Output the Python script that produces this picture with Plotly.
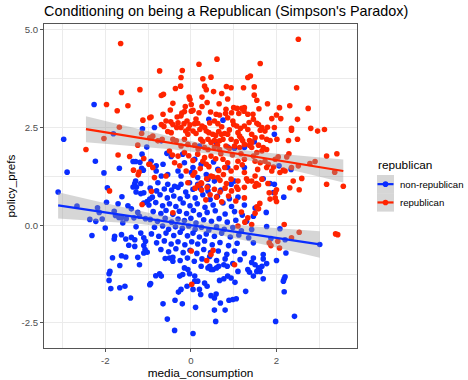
import numpy as np
import plotly.graph_objects as go

# ---------------- data ----------------
red_pts = [
    (-1.64,4.65),(-1.19,3.47),(-1.62,3.40),(-1.97,3.09),(-1.47,3.06),(-1.72,2.93),(-0.96,2.75),(-1.12,2.69),
    (-1.67,2.51),(-1.15,2.35),(-2.03,2.22),(-1.24,2.05),(-2.45,1.94),(-1.70,1.80),(-1.43,1.76),(-1.10,1.71),
    (-0.98,1.56),(-1.34,1.41),(-1.21,1.36),(-1.23,1.29),(-1.90,0.88),(-1.14,0.53),
    (0.61,4.25),(0.19,4.12),(-0.73,3.95),(-0.20,3.96),(-0.23,3.78),(0.28,3.75),(0.47,3.79),(1.33,3.78),(1.39,3.82),
    (0.32,3.56),(0.36,3.47),(-0.36,3.50),(-0.24,3.56),(0.83,3.55),(0.94,3.52),(1.23,3.52),(0.53,3.42),(-0.69,3.32),
    (-0.64,3.35),(0.72,3.37),(0.86,3.23),(-0.04,3.28),(-0.02,3.22),(0.26,3.28),(-0.42,3.12),(0.01,3.09),(-0.13,3.04),
    (0.38,3.14),(0.26,3.04),(0.66,3.11),(1.00,3.01),(1.08,2.99),(1.19,2.99),(1.25,3.01),(0.82,2.97),(0.01,2.92),
    (0.05,2.94),(-0.21,2.87),(-0.15,2.91),(-0.65,2.84),(-0.93,2.77),(-0.23,2.80),(-0.32,2.77),(0.46,2.90),(0.59,2.84),
    (0.67,2.82),(0.81,2.86),(0.86,2.75),(1.12,2.86),(1.33,2.84),(1.45,2.84),(1.24,2.92),(-0.58,2.67),(-0.47,2.65),
    (-0.42,2.58),(-0.69,2.58),(-0.63,2.53),(-0.16,2.60),(-0.09,2.67),(-0.02,2.57),(0.09,2.60),(0.16,2.61),(0.26,2.54),
    (0.32,2.50),(0.55,2.67),(0.63,2.60),(0.98,2.67),(1.00,2.58),(1.07,2.54),(1.25,2.54),(1.33,2.45),(-0.33,2.50),
    (-0.23,2.50),(-0.12,2.41),(-0.54,2.40),(-0.46,2.37),(0.05,2.41),(0.12,2.35),(-0.07,2.33),(0.36,2.41),(0.42,2.37),
    (0.51,2.33),(0.65,2.40),(0.71,2.33),(0.79,2.35),(0.86,2.33),(1.10,2.37),(1.14,2.28),(-0.96,2.24),(-0.89,2.28),
    (-0.77,2.16),(-0.67,2.20),(-0.42,2.20),(-0.34,2.16),(0.23,2.20),(0.28,2.14),(0.40,2.20),(0.47,2.12),(0.55,2.17),
    (0.67,2.16),(0.75,2.20),(0.94,2.20),(1.06,2.14),(1.21,2.16),(1.37,2.17),(-0.07,2.07),(0.09,2.05),(-0.23,2.03),
    (0.32,1.99),(0.40,1.94),(0.55,2.00),(0.67,1.94),(0.82,2.03),(0.90,1.97),(1.02,2.03),(1.14,1.99),(1.25,2.07),
    (1.37,2.05),(-0.50,1.90),(-0.43,1.80),(-0.30,1.77),(-0.15,1.86),(0.16,1.82),(0.32,1.73),(0.47,1.77),(0.58,1.70),
    (0.75,1.69),(0.86,1.60),(1.10,1.64),(1.25,1.69),(-0.96,1.56),(-0.89,1.48),(-0.38,1.60),(-0.26,1.52),(0.28,1.64),
    (0.36,1.56),(0.79,1.48),(0.94,1.39),(1.06,1.48),(1.25,1.35),(-0.11,1.39),(0.09,1.35),(-0.85,1.22),(-0.58,1.26),
    (0.47,1.26),(0.63,1.22),(0.94,1.18),(1.10,1.13),(1.33,1.13),(-0.07,1.09),(0.24,1.09),
    (0.12,2.72),(0.21,2.45),(0.44,2.62),(0.72,2.52),(0.90,2.44),(1.16,2.48),(-0.30,2.62),(-0.05,2.47),(0.58,2.30),
    (0.95,2.88),(0.19,2.88),(-0.48,2.95),(1.36,2.63),(1.18,2.22),(0.62,2.05),(0.17,1.95),(-0.15,2.20),(0.97,1.80),
    (1.17,1.83),(0.70,1.83),(0.05,1.66),(-0.05,1.78),(0.42,1.50),(0.65,1.40),(1.20,1.55),(0.22,1.45),(0.76,1.30),
    (2.51,4.76),(1.62,4.14),(2.47,3.52),(1.48,3.54),(1.48,3.33),(1.54,3.20),(1.79,3.11),(1.59,2.98),(2.07,3.01),
    (2.31,3.06),(2.74,2.99),(2.00,2.82),(1.89,2.73),(2.10,2.73),(1.46,2.71),(1.54,2.61),(1.58,2.58),(1.66,2.50),
    (1.79,2.51),(1.73,2.41),(1.62,2.43),(2.49,2.71),(1.95,2.50),(2.35,2.48),(2.35,2.43),(2.80,2.48),(2.96,2.41),
    (3.12,2.45),(1.42,2.33),(1.50,2.24),(1.66,2.26),(1.77,2.20),(1.85,2.17),(2.01,2.20),(2.28,2.17),(2.49,2.20),
    (1.42,2.12),(1.58,2.05),(1.69,1.99),(1.77,1.94),(1.42,1.99),(1.54,1.86),(1.46,1.77),(1.66,1.90),(2.29,1.83),
    (2.24,1.75),(2.04,1.75),(1.97,1.69),(3.17,1.77),(3.41,1.83),(1.50,1.64),(1.62,1.60),(1.73,1.64),(1.81,1.56),
    (2.90,1.63),(2.78,1.58),(2.35,1.48),(2.51,1.52),(1.56,1.43),(1.77,1.48),(1.93,1.49),(1.89,1.39),(2.08,1.35),
    (2.16,1.41),(2.20,1.39),(1.66,1.18),(1.50,1.26),(1.42,1.13),(2.39,1.13),(2.59,1.20),(1.50,1.00),(1.58,1.03),
    (2.31,0.96),(3.17,1.05),(3.56,1.00),(3.36,1.36),
    (1.83,0.83),(1.97,0.83),(2.00,0.91),(2.53,0.91),(1.85,0.67),(2.00,0.61),(1.97,0.70),(1.54,0.47),(1.58,0.42),
    (1.50,0.31),(2.18,0.02),(2.53,-0.18),(2.35,-0.32),(2.03,-0.41),(1.83,-0.45),(1.87,-0.52),(2.07,-0.58),
    (3.38,-0.22),(3.43,-0.24),(1.42,0.02),
    (0.05,1.28),(0.17,1.02),(0.25,1.07),(0.37,1.19),(0.52,1.24),(0.68,1.15),(0.83,1.07),(1.07,0.98),(1.30,1.19),
    (1.53,1.07),(1.80,1.07),(1.18,0.34),(1.26,0.08),(1.61,0.56),(0.52,-0.64),(0.37,-0.90),(0.02,-1.51),
    (-0.92,0.87),(-0.42,0.32),(0.01,-0.66),(0.47,-0.75),(1.02,-1.01),(1.10,-0.02),(1.33,0.19),
    (0.10,0.95),(0.25,0.90),(0.38,0.97),(0.55,0.92),(0.68,0.85),(0.80,0.95),(0.95,0.88),(1.10,0.92),(1.25,0.97),
    (0.45,0.78),(0.60,0.72),(0.88,0.75),(1.05,0.62),(1.25,0.70),(0.72,0.60),(0.35,0.65),
]

blue_pts = [
    (-2.26,3.09),(-1.13,2.47),(-1.81,2.34),(-2.97,2.20),(-1.03,2.00),(-1.14,1.82),(-2.23,1.64),(-1.35,1.63),
    (-1.29,1.63),(-1.19,1.61),(-1.67,1.46),(-1.15,1.46),(-1.11,1.41),(-2.89,1.36),(-2.03,1.34),(-1.29,1.13),
    (-1.31,1.07),(-1.17,1.07),(-1.27,0.98),(-1.35,0.98),(-1.95,0.96),
    (-3.10,0.85),(-1.61,0.73),(-1.28,0.85),(-1.17,0.81),(-1.10,0.83),(-1.97,0.59),(-1.70,0.55),(-1.47,0.50),
    (-1.39,0.42),(-2.66,0.49),(-2.18,0.45),(-2.14,0.33),(-1.79,0.36),(-1.76,0.25),(-1.68,0.20),(-1.62,0.19),
    (-1.51,0.17),(-1.24,0.33),(-1.20,0.23),(-1.33,0.19),(-1.06,0.17),(-1.10,0.57),(-1.02,0.61),(-0.96,0.67),
    (-2.36,0.15),(-2.22,0.10),(-2.07,0.16),(-1.59,0.06),(-2.00,-0.07),(-1.28,-0.04),(-1.17,-0.20),(-1.10,-0.32),
    (-1.06,-0.41),(-2.31,-0.26),(-1.78,-0.28),(-1.79,-0.35),(-1.62,-0.24),(-1.52,-0.35),(-1.39,-0.31),(-1.31,-0.37),
    (-1.45,-0.51),(-1.31,-0.54),(-1.10,-0.52),(-1.07,-0.62),(-1.10,-0.71),(-1.02,-0.69),(-1.83,-0.83),(-1.62,-0.78),
    (-1.52,-0.81),(-1.24,-0.82),(-1.66,-1.03),(-1.20,-1.01),(-1.89,-1.18),(-1.91,-1.24),(-1.91,-1.41),(-1.87,-1.62),
    (-1.66,-1.60),(-1.54,-1.56),(-1.41,-1.86),(-0.96,-1.52),
    (0.42,2.71),(0.75,2.69),(-0.85,2.50),(-0.69,2.16),(0.20,2.03),(0.59,2.12),(0.86,2.00),(1.02,1.97),(1.25,1.99),
    (-0.56,1.84),(-0.46,1.76),(-0.19,1.82),(0.09,1.69),(-0.93,1.64),(-0.81,1.52),(-0.65,1.56),(-0.15,1.60),
    (0.05,1.48),(0.24,1.56),(0.53,1.62),(0.63,1.43),(0.86,1.48),(1.25,1.48),(-0.81,1.39),(-0.69,1.26),(-0.54,1.30),
    (-0.30,1.39),(-0.23,1.26),(0.01,1.35),(0.16,1.22),(0.36,1.30),(0.40,1.18),(0.55,1.13),(-0.77,1.09),(-0.54,1.05),
    (-0.38,1.00),(-0.23,1.05),(-0.03,1.09),(0.16,1.05),(0.40,1.00),(0.94,1.05),(1.02,1.13),
    (1.95,2.33),(1.48,2.14),(2.06,1.52),(2.34,1.43),(1.69,1.19),(1.85,1.07),(1.95,1.05),
    (1.93,0.84),(2.17,0.72),(1.50,0.44),(1.76,0.33),(1.46,0.23),(1.42,-0.11),(2.08,-0.09),(1.77,-0.03),(1.87,-0.34),
    (2.20,-0.37),(1.46,-0.45),(2.22,-0.71),(1.46,-0.84),(1.69,-0.75),(1.69,-0.86),(2.00,-0.90),(1.42,-0.95),
    (1.50,-1.01),(1.58,-1.09),(1.66,-1.05),(1.77,-0.98),(1.62,-1.18),(1.54,-1.18),(1.46,-1.30),(1.69,-1.37),
    (2.20,-1.32),(2.18,-1.37),(2.16,-1.43),(2.18,-1.70),(2.42,-2.33),(1.98,-2.46),(3.01,-0.49),
    (-0.94,-1.49),(-0.82,-1.29),(-0.73,-1.24),(-0.69,-1.30),(-0.65,-2.01),(-0.55,-2.40),(-0.38,-2.69),(0.05,-2.77),
    (-0.37,-1.92),(-0.20,-2.01),(-0.29,-1.71),(-0.23,-1.64),(0.11,-2.10),(-0.09,-1.56),(0.05,-1.64),(0.20,-1.64),
    (0.23,-1.77),(0.09,-1.43),(0.16,-1.43),(0.47,-1.80),(0.55,-1.86),(0.69,-1.99),(0.59,-1.76),(0.55,-2.17),
    (0.80,-2.17),(0.58,-2.46),(0.89,-1.92),(0.98,-1.90),(1.06,-1.88),(1.28,-1.69),(1.03,-1.46),(0.67,-1.41),
    (0.77,-1.37),(0.86,-1.30),(0.94,-1.35),(1.10,-1.18),(1.33,-1.13),(1.37,-1.20),(-0.15,-1.09),(-0.07,-1.13),
    (-0.19,-1.26),(-0.03,-1.24),(0.09,-1.30),(-0.26,-1.30),(-0.42,-0.92),(-0.50,-0.84),(0.24,-1.05),(0.40,-1.09),
    (0.44,-1.05),(0.47,-1.13),(0.52,-1.13),(0.60,-1.09),(0.65,-1.05),(0.77,-1.01),(0.85,-1.05),(0.98,-0.98),
    (0.32,-1.48),(0.38,-1.56),
    (-0.95,0.95),(-0.80,0.88),(-0.62,0.93),(-0.45,0.90),(-0.30,0.97),(-0.12,0.85),(0.05,0.92),(0.22,0.95),(0.40,0.88),
    (0.70,0.90),(-0.90,0.72),(-0.72,0.78),(-0.55,0.70),(-0.40,0.75),(-0.25,0.68),(-0.08,0.74),(0.10,0.70),(0.28,0.78),
    (0.45,0.66),(0.62,0.74),(0.90,0.68),(1.10,0.72),(-0.98,0.52),(-0.82,0.58),(-0.66,0.50),(-0.50,0.55),(-0.35,0.48),
    (-0.18,0.57),(-0.02,0.50),(0.15,0.55),(0.33,0.46),(0.52,0.52),(0.75,0.57),(0.95,0.48),(1.25,0.52),(-0.88,0.35),
    (-0.70,0.30),(-0.58,0.38),(-0.42,0.28),(-0.27,0.36),(-0.10,0.30),(0.06,0.38),(0.20,0.27),(0.38,0.33),(0.57,0.37),
    (0.80,0.29),(1.02,0.35),(1.20,0.26),(-0.95,0.15),(-0.78,0.10),(-0.60,0.18),(-0.45,0.08),(-0.30,0.16),(-0.15,0.12),
    (0.00,0.18),(0.12,0.06),(0.30,0.14),(0.48,0.10),(0.66,0.17),(0.85,0.08),(1.05,0.13),(1.30,0.10),(-0.85,-0.05),
    (-0.66,-0.02),(-0.52,-0.10),(-0.36,-0.04),(-0.20,-0.08),(-0.05,-0.02),(0.10,-0.10),(0.25,-0.05),(0.42,-0.12),
    (0.60,-0.04),(0.78,-0.10),(0.98,-0.06),(1.18,-0.14),(-0.92,-0.22),(-0.75,-0.28),(-0.58,-0.20),(-0.40,-0.26),
    (-0.25,-0.18),(-0.08,-0.27),(0.05,-0.20),(0.20,-0.30),(0.36,-0.22),(0.55,-0.28),(0.72,-0.20),(0.92,-0.30),
    (1.12,-0.25),(1.35,-0.32),(-0.80,-0.45),(-0.62,-0.40),(-0.46,-0.48),(-0.30,-0.42),(-0.14,-0.50),(0.02,-0.42),
    (0.16,-0.48),(0.32,-0.40),(0.50,-0.50),(0.68,-0.44),(0.88,-0.52),(1.08,-0.46),(-0.70,-0.62),(-0.52,-0.68),
    (-0.35,-0.60),(-0.18,-0.70),(-0.02,-0.64),(0.14,-0.72),(0.30,-0.62),(0.46,-0.70),(0.64,-0.66),(0.84,-0.74),
    (1.02,-0.66),(1.25,-0.72),(-0.60,-0.85),(-0.42,-0.82),(-0.25,-0.90),(-0.08,-0.84),(0.08,-0.92),(0.26,-0.86),
    (0.44,-0.80),(0.60,-0.90),(0.80,-0.86),(1.15,-0.88),
]

group_names = ["non-republican", "republican"]
group_colors = ["#0a2dff", "#ff2400"]
legend_title = "republican"
# linear fits (geom_smooth, method = "lm"): [intercept, slope]
fit_coefs = [[0.003, -0.164], [2.023, -0.178]]
x_tick_vals = [-2, 0, 2]
x_tick_text = ["-2", "0", "2"]
y_tick_vals = [-2.5, 0.0, 2.5, 5.0]
y_tick_text = ["-2.5", "0.0", "2.5", "5.0"]
x_range = [-3.43, 3.88]
y_range = [-3.14, 5.15]

# ---------------- figure ----------------
W, H = 468, 380
L, R, T, B = 44, 111, 24, 32
pw, ph = W - L - R, H - T - B


def px_x(p):  # pixel column -> paper x
    return (p - L) / pw


def px_y(p):  # pixel row -> paper y
    return (H - B - p) / ph


def lm_band(xv, yv, icpt, slope, n=80, tq=1.965):
    xv = np.asarray(xv, float)
    yv = np.asarray(yv, float)
    xs = np.linspace(xv.min(), xv.max(), n)
    yh = icpt + slope * xs
    res = yv - (icpt + slope * xv)
    s = np.sqrt((res ** 2).sum() / (len(xv) - 2))
    sxx = ((xv - xv.mean()) ** 2).sum()
    se = s * np.sqrt(1.0 / len(xv) + (xs - xv.mean()) ** 2 / sxx)
    return xs, yh, yh - tq * se, yh + tq * se


fig = go.Figure()
groups = [blue_pts, red_pts]
for pts, col, name in zip(groups, group_colors, group_names):
    fig.add_trace(go.Scatter(x=[p[0] for p in pts], y=[p[1] for p in pts], mode="markers", name=name,
                             marker=dict(color=col, size=5.6, line=dict(width=0)),
                             showlegend=False, hoverinfo="x+y+name"))
for pts, col, (a, b) in zip(groups, group_colors, fit_coefs):
    xs, yh, lo, hi = lm_band([p[0] for p in pts], [p[1] for p in pts], a, b)
    fig.add_trace(go.Scatter(x=np.concatenate([xs, xs[::-1]]), y=np.concatenate([lo, hi[::-1]]),
                             fill="toself", fillcolor="rgba(153,153,153,0.4)", line=dict(width=0),
                             mode="lines", showlegend=False, hoverinfo="skip"))
    fig.add_trace(go.Scatter(x=xs, y=yh, mode="lines", line=dict(color=col, width=2.2),
                             showlegend=False, hoverinfo="skip"))

# ---- legend (ggplot style keys: grey se background, coloured line and dot) ----
key_left, key_right, key_h, key_top = 377, 394, 18.3, 175
annotations = [dict(text=legend_title, xref="paper", yref="paper", x=px_x(376), y=px_y(165),
                    xanchor="left", yanchor="middle", showarrow=False,
                    font=dict(size=11.8, color="black"))]
for i, (name, col) in enumerate(zip(group_names, group_colors)):
    y0 = key_top + i * key_h
    yc = y0 + key_h / 2
    fig.add_shape(type="rect", xref="paper", yref="paper", x0=px_x(key_left), x1=px_x(key_right),
                  y0=px_y(y0 + key_h), y1=px_y(y0), fillcolor="rgba(153,153,153,0.4)",
                  line=dict(width=0))
    fig.add_shape(type="line", xref="paper", yref="paper", x0=px_x(key_left + 0.5), x1=px_x(key_right - 0.5),
                  y0=px_y(yc), y1=px_y(yc), line=dict(color=col, width=2.2))
    fig.add_shape(type="circle", xref="paper", yref="paper", xsizemode="pixel", ysizemode="pixel",
                  xanchor=px_x((key_left + key_right) / 2), yanchor=px_y(yc),
                  x0=-2.8, x1=2.8, y0=-2.8, y1=2.8, fillcolor=col, line=dict(width=0))
    annotations.append(dict(text=name, xref="paper", yref="paper", x=px_x(397.5), y=px_y(yc),
                            xanchor="left", yanchor="middle", showarrow=False,
                            font=dict(size=9.6, color="black")))

grid = "#ebebeb"
fig.update_layout(
    width=W, height=H, margin=dict(l=L, r=R, t=T, b=B, autoexpand=False),
    paper_bgcolor="white", plot_bgcolor="white",
    font=dict(family="Liberation Sans, Arial, sans-serif", color="black"),
    title=dict(text="Conditioning on being a Republican (Simpson's Paradox)",
               x=L / W, xanchor="left", xref="container", y=1 - 10.5 / H, yanchor="middle",
               yref="container", font=dict(size=14.4, color="black")),
    showlegend=False,
    annotations=annotations,
)
fig.update_xaxes(range=x_range, tickmode="array", tickvals=x_tick_vals, ticktext=x_tick_text,
                 showgrid=True, gridcolor=grid, gridwidth=1, zeroline=False,
                 minor=dict(dtick=1, tick0=0, showgrid=True, gridcolor=grid, gridwidth=0.6, ticklen=0),
                 showline=True, mirror=True, linecolor="#555555", linewidth=1,
                 ticks="outside", ticklen=3, tickcolor="#555555", tickwidth=1,
                 tickfont=dict(size=9.6, color="#4d4d4d"),
                 title=dict(text="media_consumption", font=dict(size=11.8, color="black"), standoff=2),
                 automargin=False)
fig.update_yaxes(range=y_range, tickmode="array", tickvals=y_tick_vals, ticktext=y_tick_text,
                 showgrid=True, gridcolor=grid, gridwidth=1, zeroline=False,
                 minor=dict(dtick=1.25, tick0=0, showgrid=True, gridcolor=grid, gridwidth=0.6, ticklen=0),
                 showline=True, mirror=True, linecolor="#555555", linewidth=1,
                 ticks="outside", ticklen=3, tickcolor="#555555", tickwidth=1,
                 tickfont=dict(size=9.6, color="#4d4d4d"),
                 title=dict(text="policy_prefs", font=dict(size=11.8, color="black"), standoff=3),
                 automargin=False)

fig.write_html("out.html", config={"displayModeBar": False},
               post_script="document.body.style.margin='0px';document.body.style.overflow='hidden';")
